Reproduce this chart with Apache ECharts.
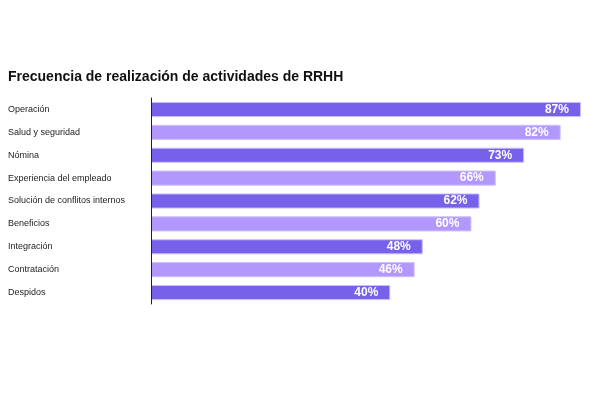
<!DOCTYPE html>
<html lang="es">
<head>
	<meta charset="UTF-8">
	<title>Frecuencia de realización de actividades de RRHH</title>
	<script src="https://cdn.jsdelivr.net/npm/echarts@6/dist/echarts.min.js"></script>
	<style>
		html, body { margin: 0; padding: 0; background: #fff; }
	</style>
</head>
<body>
	<div id="chartContainer" style="width: 600px; height: 400px;"></div>
	<script type="text/javascript">

		const categories = [
			'Operación',
			'Salud y seguridad',
			'Nómina',
			'Experiencia del empleado',
			'Solución de conflitos internos',
			'Beneficios',
			'Integración',
			'Contratación',
			'Despidos'
		];

		const values = [87, 82, 73, 66, 62, 60, 48, 46, 40];

		const barColors = ['#7760EA', '#B298FD'];

		const chart = echarts.init(document.getElementById('chartContainer'));

		chart.setOption({
			animation: false,
			title: {
				text: 'Frecuencia de realización de actividades de RRHH',
				left: 8,
				top: 70,
				padding: 0,
				textStyle: {
					fontFamily: 'Liberation Sans',
					fontSize: 14,
					fontWeight: 'bold',
					color: '#111'
				}
			},
			grid: {
				left: 151,
				right: 15,
				top: 98,
				bottom: 96
			},
			// bars start at the axis line, not at zero
			xAxis: {
				type: 'value',
				min: -19,
				max: 88,
				startValue: -19,
				show: false
			},
			yAxis: {
				type: 'category',
				data: categories,
				inverse: true,
				z: 5,
				axisLine: { show: true, onZero: false, lineStyle: { color: '#222', width: 1 } },
				axisTick: { show: false },
				axisLabel: {
					align: 'left',
					margin: 143,
					fontFamily: 'Liberation Sans',
					fontSize: 9,
					color: '#222'
				}
			},
			series: [{
				type: 'bar',
				data: values,
				barCategoryGap: '34%',
				itemStyle: {
					color: (p) => barColors[p.dataIndex % 2],
					borderColor: '#CDBFFF',
					borderWidth: 1
				},
				label: {
					show: true,
					position: 'insideRight',
					distance: 12,
					formatter: '{c}%',
					fontFamily: 'Liberation Sans',
					fontSize: 12,
					fontWeight: 'bold',
					color: '#fff'
				}
			}]
		});
	</script>
</body>
</html>
